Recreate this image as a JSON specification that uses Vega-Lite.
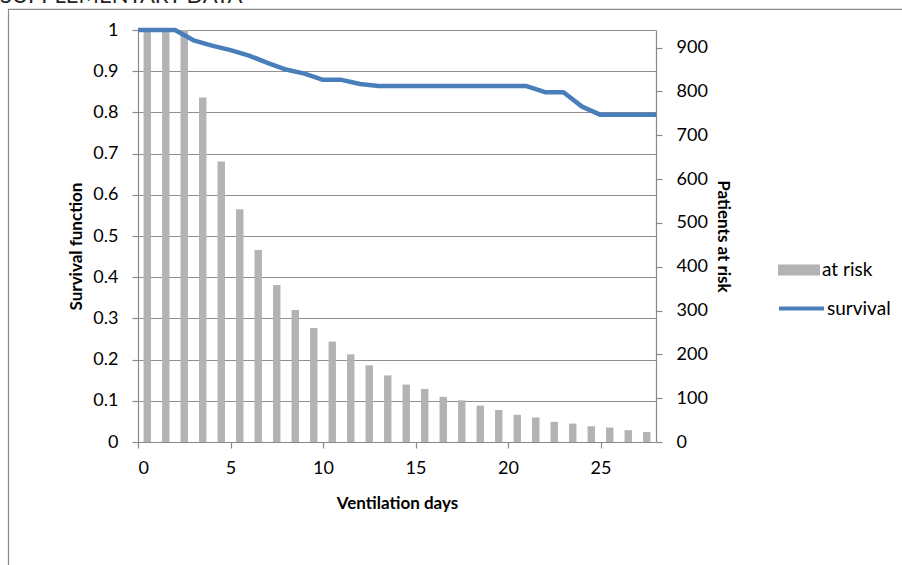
{
  "$schema": "https://vega.github.io/schema/vega-lite/v6.json",
  "autosize": {"type": "none"},
  "width": 518,
  "height": 412,
  "padding": {"left": 138, "top": 30, "right": 246, "bottom": 123},
  "background": "white",
  "config": {
    "view": {"stroke": null},
    "font": "Lato",
    "axis": {
      "labelFont": "Lato",
      "labelFontSize": 18,
      "labelColor": "#000000",
      "titleFont": "Lato",
      "titleFontSize": 17,
      "titleFontWeight": "bold",
      "titleColor": "#000000",
      "domainColor": "#8A8A8A",
      "domainWidth": 1.2,
      "tickColor": "#8A8A8A",
      "tickWidth": 1.2,
      "tickSize": 6,
      "gridColor": "#8E8E8E",
      "gridWidth": 1.2
    },
    "legend": {
      "labelFont": "Lato",
      "labelFontSize": 19,
      "labelColor": "#000000"
    }
  },
  "datasets": {
    "atRisk": [
      {"day": 0.5, "patients": 940},
      {"day": 1.5, "patients": 940},
      {"day": 2.5, "patients": 940},
      {"day": 3.5, "patients": 786},
      {"day": 4.5, "patients": 640},
      {"day": 5.5, "patients": 531},
      {"day": 6.5, "patients": 438},
      {"day": 7.5, "patients": 358},
      {"day": 8.5, "patients": 301},
      {"day": 9.5, "patients": 260},
      {"day": 10.5, "patients": 229},
      {"day": 11.5, "patients": 200},
      {"day": 12.5, "patients": 175},
      {"day": 13.5, "patients": 152},
      {"day": 14.5, "patients": 131},
      {"day": 15.5, "patients": 121},
      {"day": 16.5, "patients": 103},
      {"day": 17.5, "patients": 95},
      {"day": 18.5, "patients": 83},
      {"day": 19.5, "patients": 73},
      {"day": 20.5, "patients": 62},
      {"day": 21.5, "patients": 56},
      {"day": 22.5, "patients": 46},
      {"day": 23.5, "patients": 42},
      {"day": 24.5, "patients": 36},
      {"day": 25.5, "patients": 33},
      {"day": 26.5, "patients": 27},
      {"day": 27.5, "patients": 23}
    ],
    "survival": [
      {"day": 0, "survival": 1},
      {"day": 1, "survival": 1},
      {"day": 2, "survival": 1},
      {"day": 3, "survival": 0.975},
      {"day": 4, "survival": 0.962},
      {"day": 5, "survival": 0.951},
      {"day": 6, "survival": 0.938},
      {"day": 7, "survival": 0.92},
      {"day": 8, "survival": 0.904},
      {"day": 9, "survival": 0.894},
      {"day": 10, "survival": 0.879},
      {"day": 11, "survival": 0.879},
      {"day": 12, "survival": 0.869},
      {"day": 13, "survival": 0.864},
      {"day": 14, "survival": 0.864},
      {"day": 15, "survival": 0.864},
      {"day": 16, "survival": 0.864},
      {"day": 17, "survival": 0.864},
      {"day": 18, "survival": 0.864},
      {"day": 19, "survival": 0.864},
      {"day": 20, "survival": 0.864},
      {"day": 21, "survival": 0.864},
      {"day": 22, "survival": 0.849},
      {"day": 23, "survival": 0.849},
      {"day": 24, "survival": 0.814},
      {"day": 25, "survival": 0.794},
      {"day": 26, "survival": 0.794},
      {"day": 27, "survival": 0.794},
      {"day": 28, "survival": 0.794}
    ]
  },
  "layer": [
    {
      "description": "Chart area frame and page heading",
      "data": {"values": [{}]},
      "encoding": {
        "x": {"datum": -7.0, "type": "quantitative", "scale": {"domain": [0, 28], "nice": false, "zero": false, "padding": 0}},
        "y": {"datum": 1.05, "type": "quantitative", "scale": {"domain": [0, 1], "nice": false}, "axis": null}
      },
      "layer": [
        {
          "mark": {"type": "rect", "fill": "transparent", "stroke": "#8A8A8A", "strokeWidth": 1.2, "clip": false},
          "encoding": {
            "x2": {"datum": 60},
            "y2": {"datum": -1}
          }
        },
        {
          "mark": {"type": "text", "text": "SUPPLEMENTARY DATA", "align": "left", "baseline": "alphabetic", "fontSize": 22, "font": "Lato", "color": "#222222", "clip": false},
          "encoding": {
            "x": {"datum": -7.46, "type": "quantitative"},
            "y": {"datum": 1.0645, "type": "quantitative"}
          }
        }
      ]
    },
    {
      "data": {"name": "atRisk"},
      "mark": {"type": "bar", "size": 7.4},
      "encoding": {
        "x": {
          "field": "day",
          "type": "quantitative",
          "scale": {"domain": [0, 28], "nice": false, "zero": false, "padding": 0},
          "axis": {
            "title": "Ventilation days",
            "values": [0, 5, 10, 15, 20, 25],
            "grid": false,
            "labelPadding": 11,
            "titlePadding": 18
          }
        },
        "y": {
          "field": "patients",
          "type": "quantitative",
          "scale": {"domain": [0, 940], "nice": false},
          "axis": {
            "orient": "right",
            "title": "Patients at risk",
            "values": [0, 100, 200, 300, 400, 500, 600, 700, 800, 900],
            "grid": false,
            "labelPadding": 14,
            "titlePadding": 6
          }
        },
        "fill": {
          "datum": "at risk",
          "scale": {"domain": ["at risk"], "range": ["#B3B3B5"]},
          "legend": {
            "title": null,
            "orient": "none",
            "legendX": 640,
            "legendY": 219,
            "symbolType": "M-1,-0.26H1V0.26H-1Z",
            "symbolSize": 1764,
            "symbolStrokeWidth": 0,
            "labelOffset": 2
          }
        }
      }
    },
    {
      "data": {"name": "survival"},
      "mark": {"type": "line", "strokeWidth": 4.5, "strokeJoin": "round"},
      "encoding": {
        "x": {"field": "day", "type": "quantitative", "scale": {"domain": [0, 28], "nice": false, "zero": false, "padding": 0}},
        "y": {
          "field": "survival",
          "type": "quantitative",
          "scale": {"domain": [0, 1], "nice": false},
          "axis": {
            "orient": "left",
            "title": "Survival function",
            "values": [0, 0.1, 0.2, 0.3, 0.4, 0.5, 0.6, 0.7, 0.8, 0.9, 1],
            "format": "~g",
            "grid": true,
            "labelPadding": 14,
            "titlePadding": 7,
            "titleY": 216
          }
        },
        "stroke": {
          "datum": "survival",
          "scale": {"domain": ["survival"], "range": ["#4A7EBB"]},
          "legend": {
            "title": null,
            "orient": "none",
            "legendX": 639,
            "legendY": 254,
            "symbolType": "stroke",
            "symbolSize": 2025,
            "symbolStrokeWidth": 4,
            "labelOffset": 1
          }
        }
      }
    }
  ],
  "resolve": {"scale": {"y": "independent", "fill": "independent", "stroke": "independent"}, "legend": {"fill": "independent", "stroke": "independent"}}
}
